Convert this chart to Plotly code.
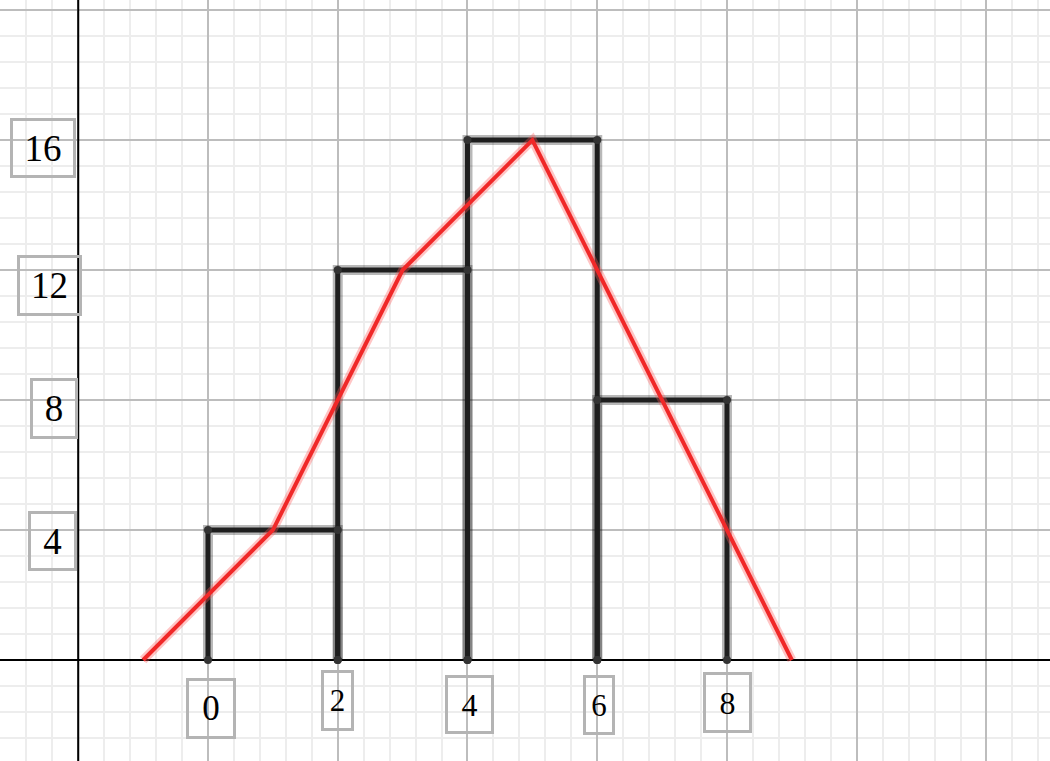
import plotly.graph_objects as go

# Histogram classes and frequencies
class_edges = [0, 2, 4, 6, 8]
frequencies = [4, 12, 16, 8]

# Frequency polygon (class midpoints, closed at both ends)
poly_x = [-1, 1, 3, 5, 7, 9]
poly_y = [0, 4, 12, 16, 8, 0]

# Tick labels drawn in boxes
x_labels = [0, 2, 4, 6, 8]
y_labels = [16, 12, 8, 4]

# Build the bar outlines (no bottom edge)
bar_x, bar_y = [], []
for i, h in enumerate(frequencies):
    left, right = class_edges[i], class_edges[i + 1]
    bar_x += [left, left, right, right, None]
    bar_y += [0, h, h, 0, None]

fig = go.Figure()

# soft halo under the bars
fig.add_trace(go.Scatter(
    x=bar_x, y=bar_y, mode='lines',
    line=dict(color='rgba(0,0,0,0.28)', width=10),
    hoverinfo='skip'
))
fig.add_trace(go.Scatter(
    x=bar_x, y=bar_y, mode='lines+markers',
    line=dict(color='#1e1e1e', width=5),
    marker=dict(color='#333333', size=8),
    name='Histogram'
))

# frequency polygon with pinkish halo
fig.add_trace(go.Scatter(
    x=poly_x, y=poly_y, mode='lines',
    line=dict(color='rgba(255,90,90,0.35)', width=9),
    hoverinfo='skip'
))
fig.add_trace(go.Scatter(
    x=poly_x, y=poly_y, mode='lines',
    line=dict(color='#f02828', width=4),
    name='Polygon'
))

# vertical axis sits at x = -2
fig.add_vline(x=-2, line=dict(color='black', width=2), layer='above')

# boxed labels: (xshift, yshift, box width, box height, font size)
x_label_style = [(3, -48, 44, 55, 35), (0, -40, 27, 55, 31), (2, -44, 43, 53, 32),
                 (2, -45, 26, 54, 31), (1, -42, 43, 55, 32)]
y_label_style = [(-35, -8, 60, 54, 37), (-29, -15, 59, 55, 37),
                 (-24, -8, 42, 55, 37), (-26, -11, 43, 54, 37)]

for val, (dx, dy, w, h, fs) in zip(x_labels, x_label_style):
    fig.add_annotation(x=val, y=0, xref='x', yref='y', text=str(val), showarrow=False,
                       xshift=dx, yshift=dy, width=w, height=h, borderpad=0,
                       bordercolor='#b4b4b4', borderwidth=3,
                       font=dict(family='Liberation Serif', size=fs, color='black'))

for val, (dx, dy, w, h, fs) in zip(y_labels, y_label_style):
    fig.add_annotation(x=-2, y=val, xref='x', yref='y', text=str(val), showarrow=False,
                       xshift=dx, yshift=dy, width=w, height=h, borderpad=0,
                       bordercolor='#b4b4b4', borderwidth=3,
                       font=dict(family='Liberation Serif', size=fs, color='black'))

fig.update_layout(
    width=1050, height=761,
    margin=dict(l=0, r=0, t=0, b=0),
    plot_bgcolor='white', paper_bgcolor='white',
    showlegend=False,
    xaxis=dict(range=[-3.206, 12.979], tick0=0, dtick=2, showticklabels=False,
               showgrid=True, gridcolor='#bdbdbd', gridwidth=1.5, zeroline=False,
               ticks='', minor=dict(tick0=0, dtick=0.4, showgrid=True,
                                    gridcolor='#ededed', gridwidth=1.5)),
    yaxis=dict(range=[-3.108, 20.31], tick0=0, dtick=4, showticklabels=False,
               showgrid=True, gridcolor='#bdbdbd', gridwidth=1.5,
               zeroline=True, zerolinecolor='black', zerolinewidth=2,
               ticks='', minor=dict(tick0=0, dtick=0.8, showgrid=True,
                                    gridcolor='#ededed', gridwidth=1.5)),
)

# drop the default page margin so the figure fills the window
fig.write_html("out.html", config={'displayModeBar': False},
               post_script="document.body.style.margin = '0';")
